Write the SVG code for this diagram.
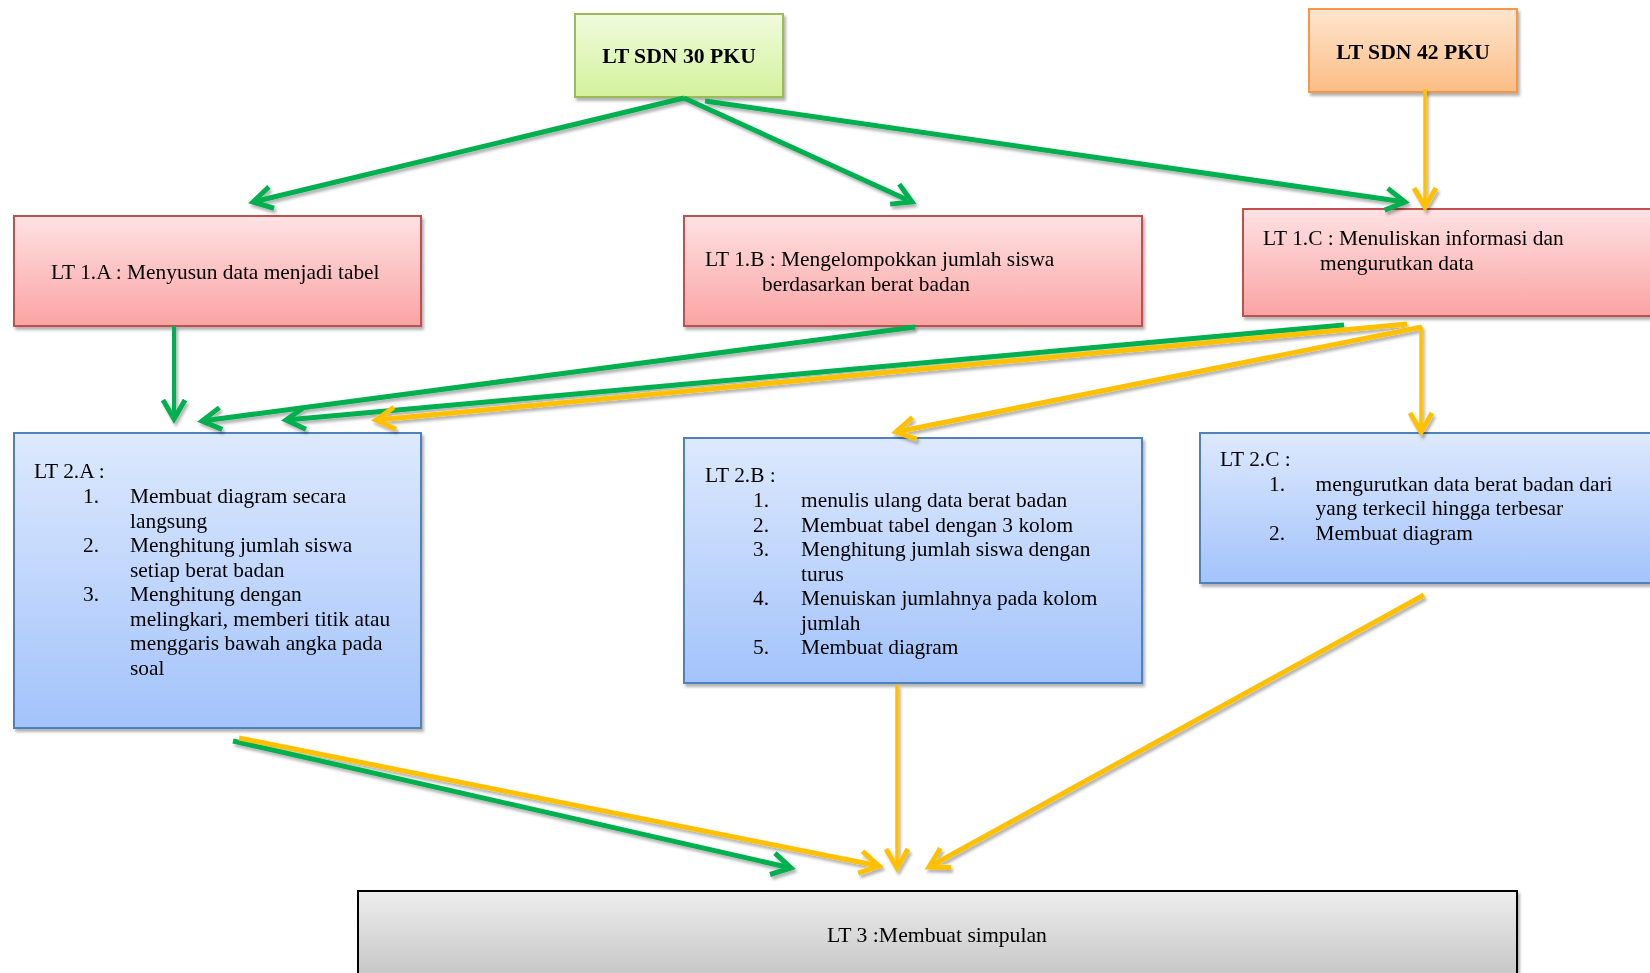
<svg xmlns="http://www.w3.org/2000/svg" width="1650" height="973" viewBox="0 0 1650 973">
<style>
text{font-family:"Liberation Serif","Times New Roman",serif;font-size:21.4px;fill:#000}
.b{font-weight:bold;font-size:21.7px}
.c{font-size:21.7px}
.box{stroke-width:2}
.g{stroke:#00b050;stroke-width:5;fill:none;marker-end:url(#ag)}
.y{stroke:#ffc000;stroke-width:5;fill:none;marker-end:url(#ay)}
.yt{stroke:#ffc000;stroke-width:3.5;fill:none;marker-end:url(#ay)}
.gt{stroke:#00b050;stroke-width:4;fill:none;marker-end:url(#ag)}
</style>
<defs>
<filter id="sh" x="-10%" y="-10%" width="120%" height="130%">
<feDropShadow dx="2" dy="3" stdDeviation="1.6" flood-color="#000" flood-opacity="0.3"/>
</filter>
<linearGradient id="gGreen" x1="0" y1="0" x2="0" y2="1"><stop offset="0" stop-color="#f0fbdd"/><stop offset="1" stop-color="#d3f29c"/></linearGradient>
<linearGradient id="gOrange" x1="0" y1="0" x2="0" y2="1"><stop offset="0" stop-color="#fee5cf"/><stop offset="1" stop-color="#fbbd84"/></linearGradient>
<linearGradient id="gRed" x1="0" y1="0" x2="0" y2="1"><stop offset="0" stop-color="#fee2e3"/><stop offset="1" stop-color="#fba3a3"/></linearGradient>
<linearGradient id="gBlue" x1="0" y1="0" x2="0" y2="1"><stop offset="0" stop-color="#dde9fd"/><stop offset="1" stop-color="#a3c3fb"/></linearGradient>
<linearGradient id="gGray" x1="0" y1="0" x2="0" y2="1"><stop offset="0" stop-color="#eeeeee"/><stop offset="1" stop-color="#bfbfbf"/></linearGradient>
<marker id="ag" markerUnits="userSpaceOnUse" viewBox="-26 -16 30 32" refX="0" refY="0" markerWidth="30" markerHeight="32" orient="auto" overflow="visible">
<path d="M-19,-11 L0,0 L-19,11" fill="none" stroke="#00b050" stroke-width="5"/>
</marker>
<marker id="ay" markerUnits="userSpaceOnUse" viewBox="-26 -16 30 32" refX="0" refY="0" markerWidth="30" markerHeight="32" orient="auto" overflow="visible">
<path d="M-19,-11 L0,0 L-19,11" fill="none" stroke="#ffc000" stroke-width="5"/>
</marker>
</defs>
<rect width="1650" height="973" fill="#fff"/>

<g id="n-sdn30" filter="url(#sh)">
<rect class="box" x="575" y="14" width="208" height="83" fill="url(#gGreen)" stroke="#9bbb59"/>
<text class="b" x="679" y="63" text-anchor="middle">LT SDN 30 PKU</text>
</g>
<g id="n-sdn42" filter="url(#sh)">
<rect class="box" x="1309" y="9" width="208" height="83" fill="url(#gOrange)" stroke="#f79646"/>
<text class="b" x="1413" y="59" text-anchor="middle">LT SDN 42 PKU</text>
</g>
<g id="n-lt1a" filter="url(#sh)">
<rect class="box" x="14" y="216" width="407" height="110" fill="url(#gRed)" stroke="#c0504d"/>
<text x="51" y="279">LT 1.A : Menyusun data menjadi tabel</text>
</g>
<g id="n-lt1b" filter="url(#sh)">
<rect class="box" x="684" y="216" width="458" height="110" fill="url(#gRed)" stroke="#c0504d"/>
<text x="705" y="266">LT 1.B : Mengelompokkan jumlah siswa</text>
<text x="762" y="291">berdasarkan berat badan</text>
</g>
<g id="n-lt1c" filter="url(#sh)">
<rect class="box" x="1243" y="209" width="420" height="107" fill="url(#gRed)" stroke="#c0504d"/>
<text x="1263" y="245">LT 1.C : Menuliskan informasi dan</text>
<text x="1320" y="270">mengurutkan data</text>
</g>
<g id="n-lt2a" filter="url(#sh)">
<rect class="box" x="14" y="433" width="407" height="295" fill="url(#gBlue)" stroke="#4f81bd"/>
<text x="34" y="478">LT 2.A :</text>
<text x="83" y="503">1.</text><text x="130" y="503">Membuat diagram secara</text>
<text x="130" y="527.5">langsung</text>
<text x="83" y="552">2.</text><text x="130" y="552">Menghitung jumlah siswa</text>
<text x="130" y="576.5">setiap berat badan</text>
<text x="83" y="601">3.</text><text x="130" y="601">Menghitung dengan</text>
<text x="130" y="625.5">melingkari, memberi titik atau</text>
<text x="130" y="650">menggaris bawah angka pada</text>
<text x="130" y="674.5">soal</text>
</g>
<g id="n-lt2b" filter="url(#sh)">
<rect class="box" x="684" y="438" width="458" height="245" fill="url(#gBlue)" stroke="#4f81bd"/>
<text x="705" y="482">LT 2.B :</text>
<text x="753" y="507">1.</text><text x="801" y="507">menulis ulang data berat badan</text>
<text x="753" y="531.5">2.</text><text x="801" y="531.5">Membuat tabel dengan 3 kolom</text>
<text x="753" y="556">3.</text><text x="801" y="556">Menghitung jumlah siswa dengan</text>
<text x="801" y="580.5">turus</text>
<text x="753" y="605">4.</text><text x="801" y="605">Menuiskan jumlahnya pada kolom</text>
<text x="801" y="629.5">jumlah</text>
<text x="753" y="654">5.</text><text x="801" y="654">Membuat diagram</text>
</g>
<g id="n-lt2c" filter="url(#sh)">
<rect class="box" x="1200" y="433" width="460" height="150" fill="url(#gBlue)" stroke="#4f81bd"/>
<text x="1220" y="466">LT 2.C :</text>
<text x="1269" y="490.5">1.</text><text x="1315.5" y="490.5">mengurutkan data berat badan dari</text>
<text x="1315.5" y="515">yang terkecil hingga terbesar</text>
<text x="1269" y="539.5">2.</text><text x="1315.5" y="539.5">Membuat diagram</text>
</g>
<g id="n-lt3" filter="url(#sh)">
<rect x="358" y="891" width="1159" height="100" fill="url(#gGray)" stroke="#000" stroke-width="2"/>
<text class="c" x="937" y="942" text-anchor="middle">LT 3 :Membuat simpulan</text>
</g>

<g id="connectors" filter="url(#sh)">
<path class="g" d="M684,98 L253,202"/>
<path class="g" d="M684,98 L912,202"/>
<path class="g" d="M705,101 L1405,202"/>
<path class="yt" d="M1425,89 L1425,207"/>
<path class="gt" d="M174,326 L174,419"/>
<path class="g" d="M915,327 L202,421"/>
<path class="g" d="M1344,325 L286,420"/>
<path class="y" d="M1407,324 L376,420"/>
<path class="y" d="M1422,327 L896,432"/>
<path class="yt" d="M1421,327 L1421,432"/>
<path class="g" d="M233,741 L791,868"/>
<path class="y" d="M239,738 L879,866"/>
<path class="yt" d="M897,685 L897,868"/>
<path class="y" d="M1424,595 L929,867"/>
</g>
</svg>
